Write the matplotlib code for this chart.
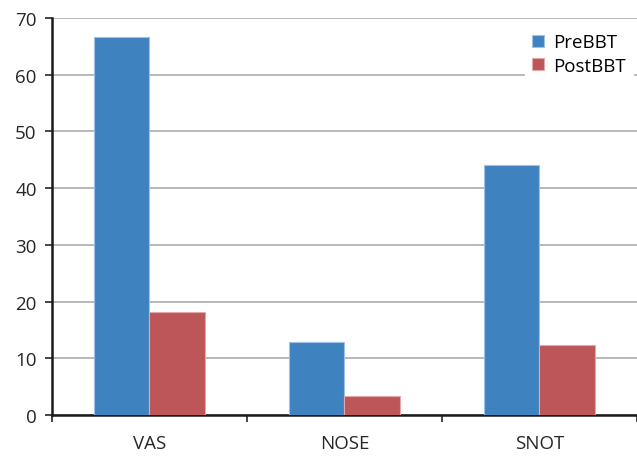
import numpy as np
import matplotlib.pyplot as plt

categories = ['VAS', 'NOSE', 'SNOT']
pre_bbt = [66.7, 12.9, 44.1]
post_bbt = [18.2, 3.4, 12.3]

plt.rcParams['font.family'] = ['Open Sans', 'DejaVu Sans']

fig = plt.figure(figsize=(6.37, 4.6), dpi=100)
ax = fig.add_axes([0.0816, 0.0957, 0.9184, 0.863])

x = np.arange(len(categories))
w = 0.287
ax.bar(x - w / 2, pre_bbt, w, color='#3F82C0', edgecolor='#9CC2E8', linewidth=0.8, label='PreBBT', zorder=3)
ax.bar(x + w / 2, post_bbt, w, color='#BC5658', edgecolor='#E3A9AA', linewidth=0.8, label='PostBBT', zorder=3)

ax.set_xlim(-0.5, 2.5)
ax.set_ylim(0, 70)
ax.set_yticks(range(0, 71, 10))
ax.yaxis.grid(True, color='#ABABAB', linewidth=1.2, zorder=0)
ax.set_axisbelow(True)

ax.set_xticks(x)
ax.set_xticklabels(categories)
ax.set_xticks([-0.5, 0.5, 1.5, 2.5], minor=True)
ax.tick_params(axis='x', which='major', length=0, pad=14, labelsize=13.5, colors='#262626')
ax.tick_params(axis='x', which='minor', length=5, width=1.2, color='#262626', direction='out')
ax.tick_params(axis='y', length=5, width=1.2, labelsize=13.5, colors='#262626', pad=6)

for s in ['top', 'right']:
    ax.spines[s].set_visible(False)
for s in ['left', 'bottom']:
    ax.spines[s].set_linewidth(1.8)
    ax.spines[s].set_color('#1A1A1A')

ax.legend(loc='upper right', frameon=True, facecolor='white', edgecolor='white', framealpha=1,
          fontsize=13.5, handlelength=0.6, handleheight=0.6, handletextpad=0.5, labelspacing=0.3,
          borderaxespad=0.2, bbox_to_anchor=(1.0, 0.99))

fig.savefig('out.png', dpi=100)
